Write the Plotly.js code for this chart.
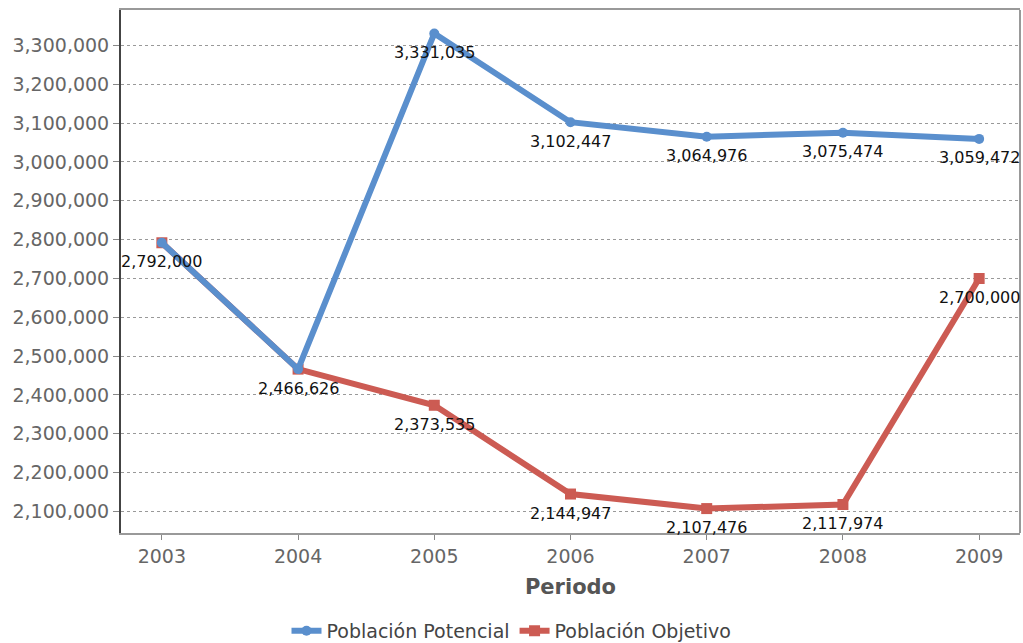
<!DOCTYPE html>
<html>
<head>
<meta charset="utf-8">
<script src="https://cdn.plot.ly/plotly-3.0.1.min.js"></script>
<style>html,body{margin:0;padding:0;background:#fff;}#chart{width:1023px;height:643px;}</style>
</head>
<body>
<div id="chart"></div>
<script>
const periods = ["2003", "2004", "2005", "2006", "2007", "2008", "2009"];
const potencial = [2792000, 2466626, 3331035, 3102447, 3064976, 3075474, 3059472];
const objetivo = [2792000, 2466626, 2373535, 2144947, 2107476, 2117974, 2700000];
const yTicks = [2100000, 2200000, 2300000, 2400000, 2500000, 2600000, 2700000, 2800000, 2900000, 3000000, 3100000, 3200000, 3300000];

const fmt = v => v.toLocaleString('en-US');

const labelFont = {family: 'DejaVu Sans', size: 16, color: '#111'};

// category axis: annotation x given as category index
const annotations = [];
periods.forEach((p, i) => {
  annotations.push({x: i, y: potencial[i], xref: 'x', yref: 'y', text: fmt(potencial[i]), showarrow: false, yshift: -19, font: labelFont});
  if (objetivo[i] !== potencial[i]) {
    annotations.push({x: i, y: objetivo[i], xref: 'x', yref: 'y', text: fmt(objetivo[i]), showarrow: false, yshift: -19, font: labelFont});
  }
});

const traces = [
  {
    x: periods, y: objetivo, name: 'Población Objetivo', type: 'scatter', mode: 'lines+markers',
    line: {color: '#cc5b53', width: 6},
    marker: {symbol: 'square', size: 11, color: '#cc5b53'},
    cliponaxis: false
  },
  {
    x: periods, y: potencial, name: 'Población Potencial', type: 'scatter', mode: 'lines+markers',
    line: {color: '#5a8fcd', width: 6},
    marker: {symbol: 'circle', size: 10, color: '#5a8fcd'},
    cliponaxis: false
  }
];

const layout = {
  width: 1023, height: 643,
  margin: {l: 121, r: 3, t: 10, b: 110},
  paper_bgcolor: '#fff', plot_bgcolor: '#fff',
  showlegend: true,
  legend: {
    orientation: 'h', x: 0.5, xanchor: 'center', xref: 'container',
    y: 0.0187, yanchor: 'middle', yref: 'container',
    traceorder: 'reversed',
    font: {family: 'DejaVu Sans', size: 19, color: '#444'},
    itemwidth: 30, tracegroupgap: 0
  },
  annotations: annotations,
  xaxis: {
    type: 'category', range: [-0.3, 6.3], automargin: false,
    showgrid: false, zeroline: false,
    showline: true, linecolor: '#999', linewidth: 2, mirror: true,
    ticks: 'outside', ticklen: 5, tickcolor: '#888',
    tickfont: {family: 'DejaVu Sans', size: 19, color: '#666'},
    title: {text: 'Periodo', font: {family: 'DejaVu Sans', size: 21, color: '#555', weight: 'bold'}, standoff: 14}
  },
  yaxis: {
    range: [2044600, 3391400], automargin: false,
    tickvals: yTicks, ticktext: yTicks.map(fmt),
    showgrid: true, gridcolor: '#999', gridwidth: 1, griddash: '3px,3px',
    zeroline: false,
    showline: true, linecolor: '#444', linewidth: 2,
    ticks: 'outside', ticklen: 6, tickcolor: '#888',
    tickfont: {family: 'DejaVu Sans', size: 19, color: '#666'}
  },
  shapes: [
    {type: 'line', xref: 'paper', yref: 'paper', x0: 1, x1: 1, y0: 0, y1: 1, line: {color: '#999', width: 2}}
  ]
};

Plotly.newPlot('chart', traces, layout, {displayModeBar: false, staticPlot: true});
</script>
</body>
</html>
